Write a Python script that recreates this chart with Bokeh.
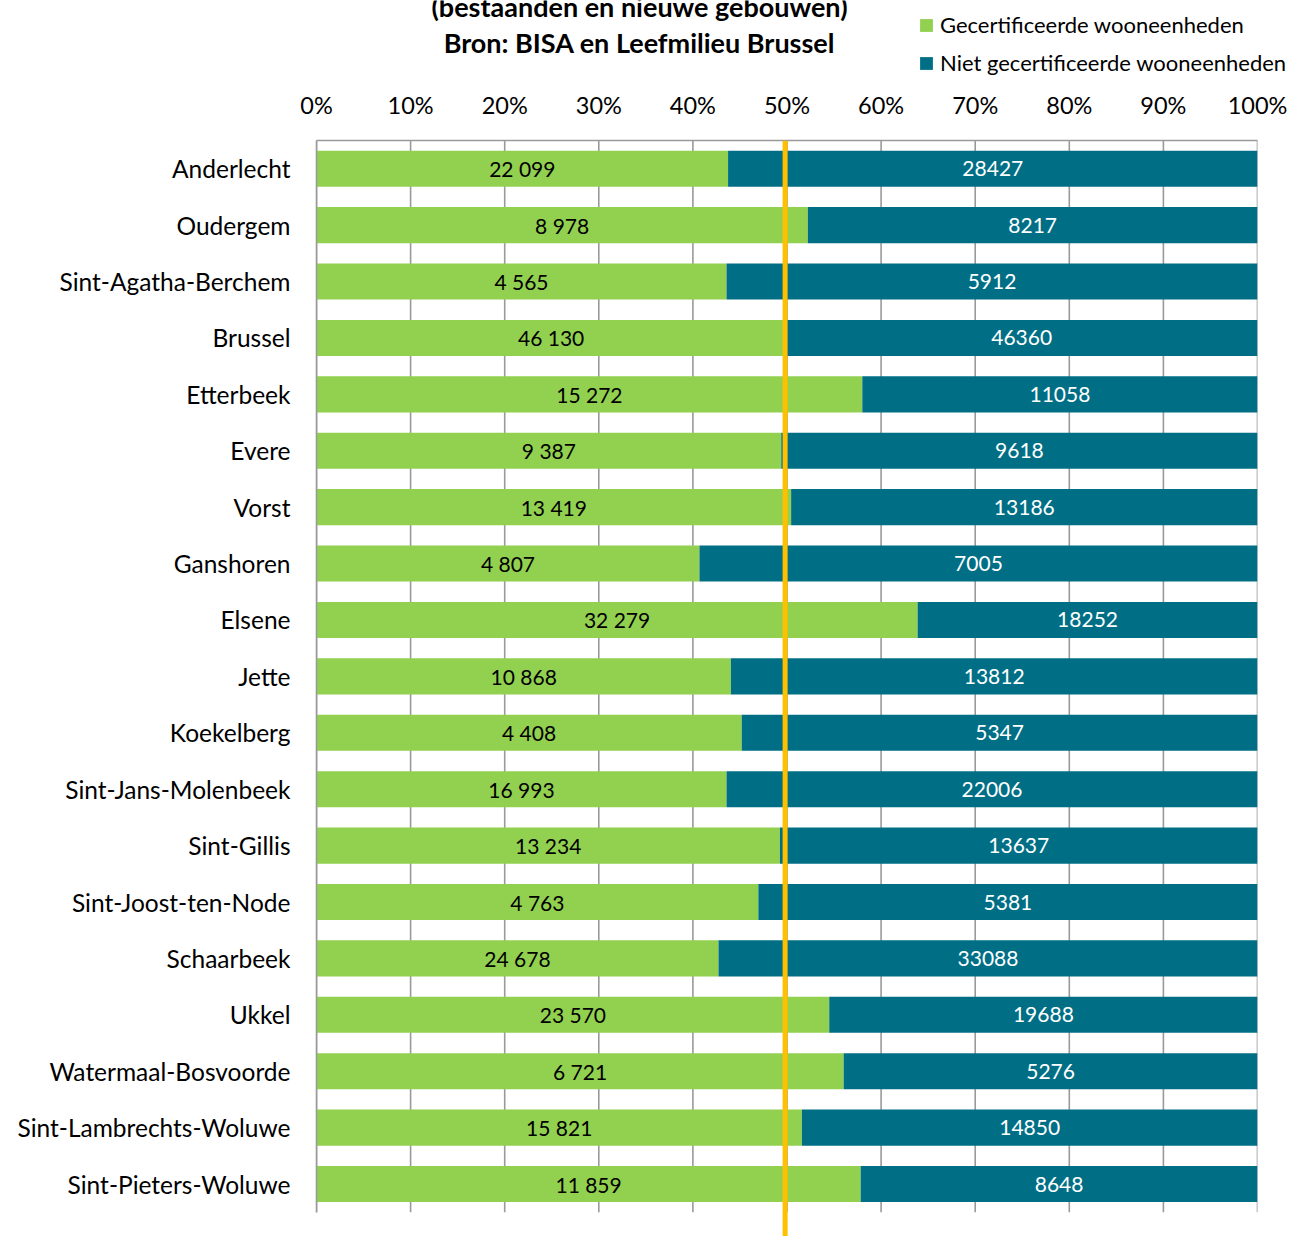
from bokeh.plotting import figure
from bokeh.models import (Range1d, FixedTicker, Span, Label, Legend, LegendItem,
                          ColumnDataSource, NumeralTickFormatter)
from bokeh.layouts import column
from bokeh.embed import file_html
from bokeh.resources import INLINE

# ---- data ----
gemeenten = ["Anderlecht", "Oudergem", "Sint-Agatha-Berchem", "Brussel", "Etterbeek",
             "Evere", "Vorst", "Ganshoren", "Elsene", "Jette", "Koekelberg",
             "Sint-Jans-Molenbeek", "Sint-Gillis", "Sint-Joost-ten-Node", "Schaarbeek",
             "Ukkel", "Watermaal-Bosvoorde", "Sint-Lambrechts-Woluwe", "Sint-Pieters-Woluwe"]
gecertificeerd = [22099, 8978, 4565, 46130, 15272, 9387, 13419, 4807, 32279, 10868,
                  4408, 16993, 13234, 4763, 24678, 23570, 6721, 15821, 11859]
niet_gecertificeerd = [28427, 8217, 5912, 46360, 11058, 9618, 13186, 7005, 18252, 13812,
                       5347, 22006, 13637, 5381, 33088, 19688, 5276, 14850, 8648]
x_ticks = [0, 0.1, 0.2, 0.3, 0.4, 0.5, 0.6, 0.7, 0.8, 0.9, 1.0]
title_lines = ["(bestaanden en nieuwe gebouwen)", "Bron: BISA en Leefmilieu Brussel"]
series_names = ["Gecertificeerde wooneenheden", "Niet gecertificeerde wooneenheden"]
referentie = 0.498

GREEN = "#92D050"
TEAL = "#006F86"
FONT = "Lato"

n = len(gemeenten)
idx = list(range(n))
tot = [a + b for a, b in zip(gecertificeerd, niet_gecertificeerd)]
share = [a / t for a, t in zip(gecertificeerd, tot)]

src = ColumnDataSource(dict(
    y=idx,
    share=share,
    one=[1.0] * n,
    zero=[0.0] * n,
    gmid=[s / 2 for s in share],
    nmid=[(s + 1) / 2 for s in share],
    glab=[f"{v:,}".replace(",", " ") for v in gecertificeerd],
    nlab=[str(v) for v in niet_gecertificeerd],
))

W, H = 1295, 1236
HEAD = 87
FL, FR = 316, 1257  # frame left/right of the main chart

# ---- header: title + legend ----
h = figure(width=W, height=HEAD, output_backend="svg", toolbar_location=None,
           x_axis_type=None, y_axis_type=None,
           x_range=Range1d(0, W), y_range=Range1d(HEAD, 0),
           min_border_left=0, min_border_right=0,
           min_border_top=0, min_border_bottom=0)
h.frame_align = False
h.grid.visible = False
h.outline_line_color = None
for line, base in zip(title_lines, [6, 42]):
    h.add_layout(Label(x=639, y=base, text=line, text_align="center",
                       text_baseline="alphabetic", text_font=FONT,
                       text_font_size="27px", text_font_style="bold",
                       text_color="black"))
# legend proxies (hidden renderers carrying the series styles)
lg = h.hbar(y="y", left="zero", right="share", height=0.64, source=src,
            fill_color=GREEN, line_color=None, visible=False)
lt = h.hbar(y="y", left="share", right="one", height=0.64, source=src,
            fill_color=TEAL, line_color=None, visible=False)
legend = Legend(items=[LegendItem(label=series_names[0], renderers=[lg]),
                       LegendItem(label=series_names[1], renderers=[lt])],
                location=(918, 11),
                orientation="vertical", glyph_width=16, glyph_height=16,
                label_standoff=6, label_height=24, spacing=11, padding=0, margin=0,
                border_line_color=None, background_fill_alpha=0,
                label_text_font=FONT, label_text_font_size="22px",
                label_text_color="black", label_text_baseline="middle")
h.add_layout(legend)

# ---- main chart ----
p = figure(width=W, height=H - HEAD, output_backend="svg", toolbar_location=None,
           x_range=Range1d(0, 1), y_range=Range1d(18.93, -0.5),
           x_axis_location="above", min_border_left=FL, min_border_right=W - FR,
           min_border_top=140 - HEAD, min_border_bottom=0)
p.frame_align = False
p.outline_line_color = None
p.xgrid.grid_line_color = None
p.ygrid.grid_line_color = None

p.segment(x0=x_ticks, x1=x_ticks, y0=[-0.5] * len(x_ticks), y1=[n - 0.5] * len(x_ticks),
          line_color="#9A9A9A", line_width=1.6)

p.hbar(y="y", left="zero", right="share", height=0.64, source=src,
       fill_color=GREEN, line_color=None)
p.hbar(y="y", left="share", right="one", height=0.64, source=src,
       fill_color=TEAL, line_color=None)

p.text(x="gmid", y="y", text="glab", source=src, text_align="center",
       text_baseline="middle", text_font_size="21px", text_color="black",
       text_font={"value": FONT})
p.text(x="nmid", y="y", text="nlab", source=src, text_align="center",
       text_baseline="middle", text_font_size="21px", text_color="white",
       text_font={"value": FONT})

p.add_layout(Span(location=referentie, dimension="height", line_color="#FFC000",
                  line_width=5))

xa = p.xaxis[0]
xa.ticker = FixedTicker(ticks=x_ticks)
xa.formatter = NumeralTickFormatter(format="0%")
xa.major_tick_line_color = None
xa.minor_tick_line_color = None
xa.axis_line_color = "#9A9A9A"
xa.axis_line_width = 1.6
xa.major_label_text_font = FONT
xa.major_label_text_font_size = "23.5px"
xa.major_label_text_color = "black"
xa.major_label_standoff = 16

ya = p.yaxis[0]
ya.ticker = FixedTicker(ticks=idx)
ya.major_label_overrides = {i: name for i, name in enumerate(gemeenten)}
ya.major_tick_line_color = None
ya.minor_tick_line_color = None
ya.axis_line_color = "#9A9A9A"
ya.axis_line_width = 1.6
ya.bounds = (-0.5, n - 0.5)
ya.major_label_text_font = FONT
ya.major_label_text_font_size = "24.5px"
ya.major_label_text_color = "black"
ya.major_label_standoff = 20

layout = column(h, p, spacing=0)
open("out.html", "w").write(file_html(layout, INLINE))
